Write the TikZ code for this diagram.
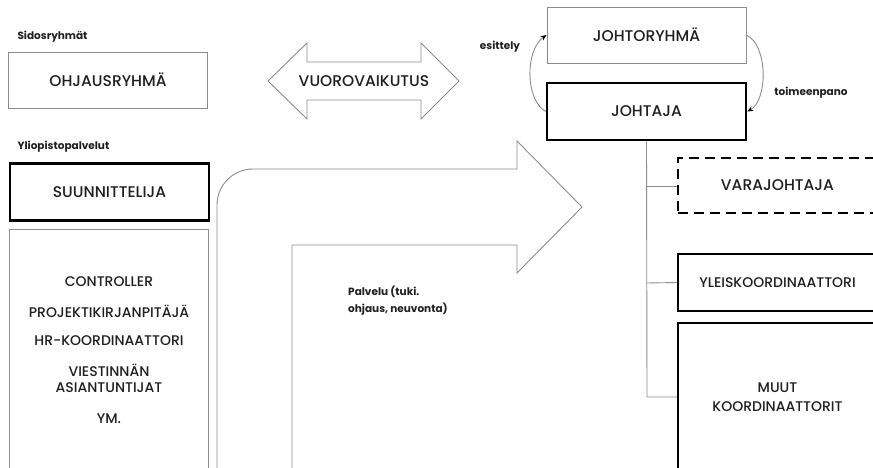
\documentclass[tikz,border=0pt]{standalone}
\usepackage{fontspec}
\setmainfont{Poppins}
\newfontfamily\medfont{Poppins Medium}
\usetikzlibrary{arrows.meta}
\begin{document}
\begin{tikzpicture}[x=1pt,y=-1pt,
  every node/.style={text=black!88},
  gbox/.style={draw=black!45, line width=0.9pt, rectangle, inner sep=0pt, minimum width=199pt},
  kbox/.style={draw=black, line width=2.5pt, rectangle, inner sep=0pt, minimum width=199pt},
  dbox/.style={draw=black, line width=2.5pt, dash pattern=on 10pt off 6pt, rectangle, inner sep=0pt, minimum width=199pt},
  btxt/.style={font=\medfont\fontsize{15.5}{18}\selectfont},
  ltxt/.style={font=\medfont\fontsize{14}{17}\selectfont},
  lbl/.style={font=\bfseries\fontsize{10.5}{12}\selectfont},
  gline/.style={draw=black!45, line width=0.9pt},
  tip/.style={-{Stealth[length=6pt,width=5pt,color=black]}}
]
\useasboundingbox (0,0) rectangle (873,467);
\clip (0,0) rectangle (873,467);

% left column
\node[lbl, anchor=west] (sido) at (14,37) {Sidosryhmät};
\node[gbox, btxt, minimum height=56pt] (ohj) at (108,80) {OHJAUSRYHMÄ};
\node[lbl, anchor=west] (ylio) at (14,147) {Yliopistopalvelut};
\node[kbox, btxt, minimum height=57pt] (suun) at (109.5,192) {SUUNNITTELIJA};
\node[gbox, minimum height=251pt] (palv) at (108.5,354.5) {};
\node[ltxt] (c1) at (109,282) {CONTROLLER};
\node[ltxt] (c2) at (109,311) {PROJEKTIKIRJANPITÄJÄ};
\node[ltxt] (c3) at (109,341) {HR-KOORDINAATTORI};
\node[ltxt] (c4) at (109,370) {VIESTINNÄN};
\node[ltxt] (c5) at (109,388) {ASIANTUNTIJAT};
\node[ltxt] (c6) at (109,419) {YM.};

% double arrow
\draw[gline, fill=white] (268,81) -- (307,43) -- (307,62) -- (421,62) -- (421,43) -- (459,81)
  -- (421,119) -- (421,100) -- (307,100) -- (307,119) -- cycle;
\node[btxt] (vuoro) at (364,81) {VUOROVAIKUTUS};

% bent arrow
\draw[gline] (217,480) -- (217,205) .. controls (217,185.1) and (233.1,169) .. (253,169)
  -- (517,169) -- (517,141) -- (582,207) -- (517,273) -- (517,245) -- (292,245) -- (292,480);
\node[font=\bfseries\fontsize{10.5}{17}\selectfont, anchor=north west, align=left, inner sep=0pt] (palvelu) at (348,286) {Palvelu (tuki.\\ohjaus, neuvonta)};

% right column
\node[gbox, btxt, minimum height=56pt] (jry) at (646.5,35) {JOHTORYHMÄ};
\node[kbox, btxt, minimum height=57pt] (joh) at (646.5,111.5) {JOHTAJA};
\node[dbox, btxt, minimum height=55pt] (vara) at (777.5,185.5) {VARAJOHTAJA};
\node[kbox, ltxt, minimum height=57pt] (yleis) at (777.5,282.5) {YLEISKOORDINAATTORI};
\node[kbox, minimum height=160pt] (muut) at (777.5,403) {};
\node[ltxt, align=center] (muutt) at (777.5,397) {MUUT\\[2pt]KOORDINAATTORIT};

\draw[gline] (joh.south) -- (647,397) -- (muut.west |- 0,397);
\draw[gline] (647,186) -- (vara.west |- 0,186);
\draw[gline] (647,283) -- (yleis.west);

% curved arrows
\draw[gline, tip] (joh.west) .. controls (525,100) and (525,50) .. (jry.west);
\node[lbl] (esit) at (500,47) {esittely};
\draw[gline, tip] (jry.east) .. controls (768,45) and (768,100) .. (joh.east);
\node[lbl] (toim) at (811,93) {toimeenpano};
\end{tikzpicture}
\end{document}
